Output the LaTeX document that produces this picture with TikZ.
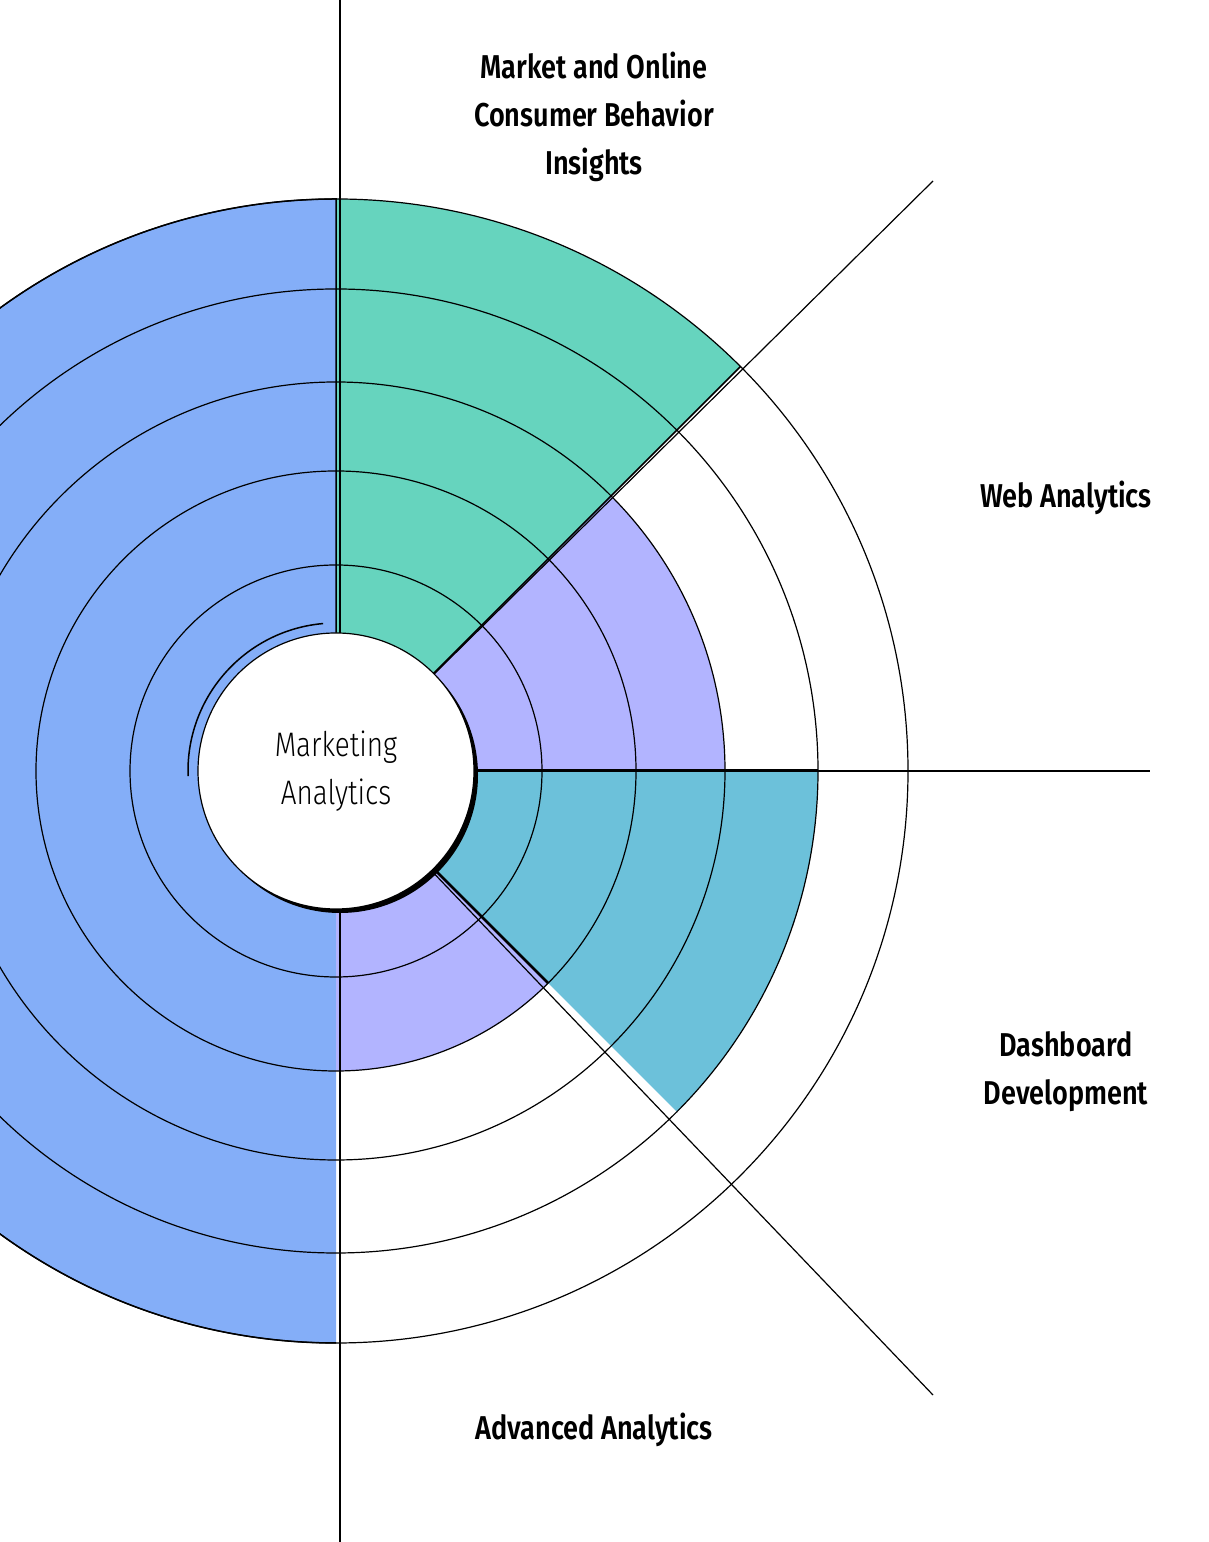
\documentclass[tikz,border=0pt]{standalone}
\usepackage{fontspec}
\usetikzlibrary{calc}
\setmainfont{Fira Sans}
\newfontfamily\lab[FakeStretch=0.82]{Fira Sans SemiBold}
\newfontfamily\ctr[FakeStretch=0.82]{Fira Sans Light}
\definecolor{cblue}{HTML}{84AEF8}
\definecolor{cgreen}{HTML}{66D4BE}
\definecolor{clav}{HTML}{B2B4FF}
\definecolor{cteal}{HTML}{6CC1DA}
\tikzset{lbl/.style={align=center,font=\lab\fontsize{33}{48}\selectfont},ring/.style={draw=black,line width=1.2pt}}
\begin{document}
\begin{tikzpicture}[x=1pt,y=1pt]
\useasboundingbox (0,0) rectangle (1208,1542);
\coordinate (c) at (336,771);
\begin{scope}
\clip (0,0) rectangle (1208,1542);
\fill[cblue] (c) -- ++(90:572) arc (90:270:572) -- cycle;
\fill[cgreen] (c) -- ++(45:572) arc (45:90:572) -- cycle;
\fill[clav] (c) -- ++(0:389) arc (0:45:389) -- cycle;
\fill[cteal] (c) -- ++(-45:482) arc (-45:0:482) -- cycle;
\fill[clav] (c) -- ++(-90:300) arc (-90:-45:300) -- cycle;
\foreach \r in {206,300,389,482,572} \draw[ring] (c) circle (\r);
\draw[line width=1.5pt] (c) -- ++(90:572) arc (90:270:572);
\end{scope}
\coordinate (top) at (340,1542);
\coordinate (bot) at (340,0);
\coordinate (ur) at (933,1361);
\coordinate (rr) at (1150,771);
\coordinate (dr) at (933,147);
\draw[line width=1.2pt] (top) -- (bot);
\draw[line width=1.2pt] (c) -- (ur);
\draw[line width=1.2pt] (c) -- (rr);
\draw[line width=1.2pt] (c) -- (dr);
\draw[line width=3pt] (c) -- ++(0:482);
\draw[line width=2.5pt] (c) -- ++(-45:300);
\draw[line width=1.5pt] (c) -- ++(45:572);
\fill[black] ($(c)+(4,-4)$) circle (138);
\node[circle,draw=black,line width=1.2pt,fill=white,minimum size=276pt,inner sep=0pt,align=center,font=\ctr\fontsize{34}{48}\selectfont] (m) at (c) {Marketing\\Analytics};
\draw[line width=1.5pt] (c) ++(95:148) arc (95:182:148);
\node[lbl] (t1) at (594,1425) {Market and Online\\Consumer Behavior\\Insights};
\node[lbl] (t2) at (1066,1044) {Web Analytics};
\node[lbl] (t3) at (1066,470) {Dashboard\\Development};
\node[lbl] (t4) at (594,112) {Advanced Analytics};
\end{tikzpicture}
\end{document}
